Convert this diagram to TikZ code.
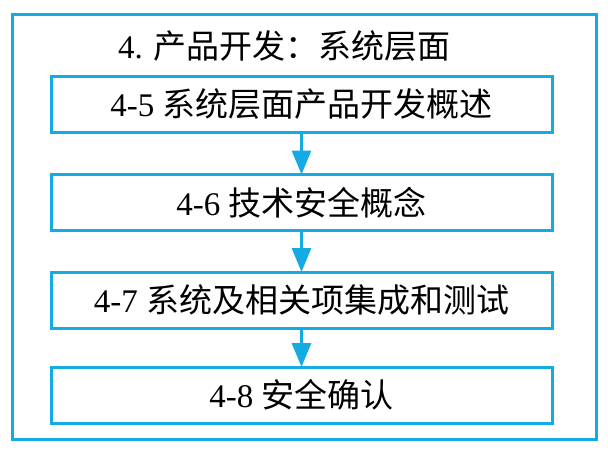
\documentclass[tikz,border=0pt]{standalone}
\usepackage{fontspec}
\setmainfont{Liberation Serif}
\newfontfamily\cjk{Noto Sans CJK SC}
\usetikzlibrary{arrows.meta}
\definecolor{frameblue}{RGB}{20,170,228}
\tikzset{
  stagebox/.style={draw=frameblue, line width=3pt, fill=white, minimum width=501pt, minimum height=56pt, inner sep=0pt, font=\fontsize{33}{37}\selectfont},
  flowarrow/.style={draw=frameblue, line width=3pt, -{Triangle[width=19pt,length=24pt]}, shorten >=-1.5pt}
}
\begin{document}
\begin{tikzpicture}[x=1pt,y=-1pt]
\useasboundingbox (0,0) rectangle (608,450);
\draw[draw=frameblue, line width=3pt] (12,14) rectangle (596,439);
\node[anchor=base west, inner sep=0pt, font=\fontsize{33}{37}\selectfont] (title) at (118,58) {4. {\cjk 产品开发：系统层面}};
\node[stagebox] (b1) at (301.5,104.5) {4-5 {\cjk 系统层面产品开发概述}};
\node[stagebox] (b2) at (301.5,202.5) {4-6 {\cjk 技术安全概念}};
\node[stagebox] (b3) at (301.5,300) {4-7 {\cjk 系统及相关项集成和测试}};
\node[stagebox] (b4) at (301.5,395) {4-8 {\cjk 安全确认}};
\draw[flowarrow] (b1.south) -- (b2.north);
\draw[flowarrow] (b2.south) -- (b3.north);
\draw[flowarrow] (b3.south) -- (b4.north);
\end{tikzpicture}
\end{document}
